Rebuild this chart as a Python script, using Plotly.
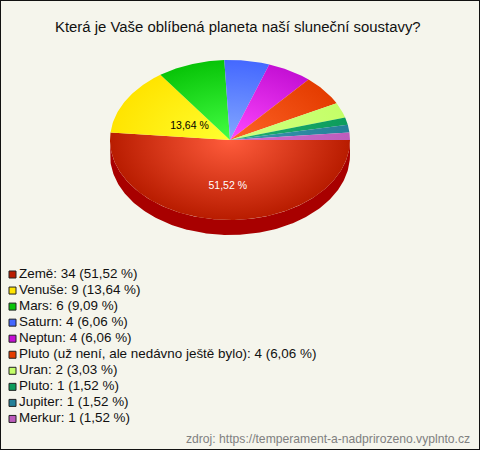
import math
import plotly.graph_objects as go

planets = ["Země", "Venuše", "Mars", "Saturn", "Neptun",
           "Pluto (už není, ale nedávno ještě bylo)", "Uran", "Pluto", "Jupiter", "Merkur"]
votes = [34, 9, 6, 4, 4, 4, 2, 1, 1, 1]
percent_labels = ["51,52 %", "13,64 %", "9,09 %", "6,06 %", "6,06 %", "6,06 %", "3,03 %", "1,52 %", "1,52 %", "1,52 %"]
edge_colors = ["#b81c00", "#ffe400", "#08c408", "#4468ff", "#c410d4", "#e43c00", "#c4ff68", "#0c9c5c", "#248098", "#bc5cbc"]
centre_colors = ["#ff5c3c", "#ffff30", "#44ff44", "#84a8ff", "#ff48ff", "#ff6428", "#d0ff80", "#20b070", "#3c98b0", "#d070d0"]
title = "Která je Vaše oblíbená planeta naší sluneční soustavy?"
source = "zdroj: https://temperament-a-nadprirozeno.vyplnto.cz"

W, H = 480, 450
CX, CY, RX, RY, DEPTH = 230, 140, 120, 80, 15
BG = "#f5f5ec"
FONT = "Liberation Sans, Arial, sans-serif"

fig = go.Figure()
total = sum(votes)


def arc(a0, a1):
    n = max(2, int(abs(a1 - a0) * 60))
    ts = [a0 + (a1 - a0) * i / n for i in range(n + 1)]
    return [math.cos(t) for t in ts], [-math.sin(t) for t in ts]


# slices, clockwise from east
angle = 0.0
angles = []
for v in votes:
    angles.append((angle, angle + 2 * math.pi * v / total))
    angle = angles[-1][1]

# side wall of the slices on the front half
a0, a1 = angles[0]
sx, sy = arc(a0, min(a1, math.pi))
drop = DEPTH / RY
fig.add_trace(go.Scatter(
    x=sx + sx[::-1], y=sy + [y - drop for y in sy[::-1]],
    mode="lines", fill="toself", fillcolor="#a80000", line=dict(width=0),
    hoverinfo="skip", showlegend=False))

for (a0, a1), c0, c1 in zip(angles, centre_colors, edge_colors):
    ax, ay = arc(a0, a1)
    # zero-area spikes stretch the bounding box so the radial gradient is centred on the pie
    xs = [0, -1, 0, 1, 0, 0, 0, 0, 0] + ax + [0]
    ys = [0, 0, 0, 0, 0, 1, 0, -1, 0] + ay + [0]
    fig.add_trace(go.Scatter(
        x=xs, y=ys, mode="lines", fill="toself", line=dict(width=0),
        fillgradient=dict(type="radial", colorscale=[[0, c0], [1, c1]]),
        hoverinfo="skip", showlegend=False))

# slice labels for the two largest slices
label_radius_x = [0.4, 0.39]
label_radius_y = [0.585, 0.34]
label_colors = ["white", "black"]
for i in range(2):
    mid = sum(angles[i]) / 2
    fig.add_trace(go.Scatter(
        x=[label_radius_x[i] * math.cos(mid)], y=[-label_radius_y[i] * math.sin(mid)],
        mode="text", text=[percent_labels[i]], textposition="middle center",
        textfont=dict(family=FONT, size=10.5, color=label_colors[i]),
        hoverinfo="skip", showlegend=False))

# legend in pixel-scaled overlay axes
rows = list(range(len(planets)))
row_y = [274.5 + 16.05 * r for r in rows]
texts = [f"{n}: {v} ({p})" for n, v, p in zip(planets, votes, percent_labels)]
fig.add_trace(go.Scatter(
    x=[12.5] * len(rows), y=row_y, xaxis="x2", yaxis="y2", mode="markers",
    marker=dict(symbol="square", size=7, color=edge_colors, line=dict(color="#222222", width=1)),
    hoverinfo="skip", showlegend=False))
fig.add_trace(go.Scatter(
    x=[19] * len(rows), y=row_y, xaxis="x2", yaxis="y2", mode="text",
    text=texts, textposition="middle right",
    textfont=dict(family=FONT, size=13.42, color="#111111"),
    hoverinfo="skip", showlegend=False))

fig.update_layout(
    width=W, height=H, autosize=False,
    margin=dict(l=0, r=0, t=0, b=0),
    paper_bgcolor=BG, plot_bgcolor="rgba(0,0,0,0)",
    xaxis=dict(domain=[0, 1], range=[(0 - CX) / RX, (W - CX) / RX], visible=False, fixedrange=True),
    yaxis=dict(domain=[0, 1], range=[(CY - H) / RY, CY / RY], visible=False, fixedrange=True),
    xaxis2=dict(domain=[0, 1], range=[0, W], visible=False, overlaying="x", fixedrange=True),
    yaxis2=dict(domain=[0, 1], range=[H, 0], visible=False, overlaying="y", fixedrange=True),
    shapes=[dict(type="rect", xref="paper", yref="paper", x0=0, x1=1, y0=0, y1=1,
                 line=dict(color="#111111", width=2), fillcolor="rgba(0,0,0,0)")],
    annotations=[
        dict(text=title, xref="paper", yref="paper", x=237.5 / W, y=1 - 27 / H, xanchor="center", yanchor="middle",
             showarrow=False, font=dict(family=FONT, size=14.9, color="#111111")),
        dict(text=source, xref="paper", yref="paper", x=1 - 8 / W, y=1 - 439 / H, xanchor="right", yanchor="middle",
             showarrow=False, font=dict(family=FONT, size=12.15, color="#808080")),
    ],
)
fig.write_html("out.html", config=dict(displayModeBar=False),
               post_script="document.documentElement.style.overflow='hidden';document.body.style.margin='0';")
